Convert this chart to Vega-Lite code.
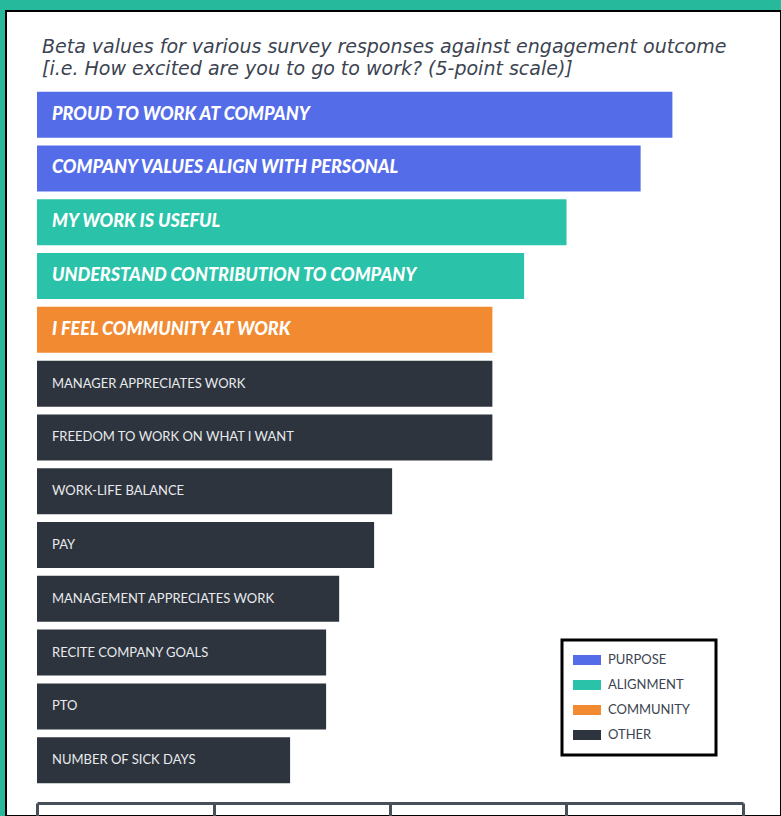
{
  "$schema": "https://vega.github.io/schema/vega-lite/v6.json",
  "width": 775,
  "height": 805,
  "autosize": {"type": "none"},
  "padding": {"left": 6, "top": 11, "right": 0, "bottom": 0},
  "background": "#27B99B",
  "title": {
    "text": ["Beta values for various survey responses against engagement outcome", "[i.e. How excited are you to go to work? (5-point scale)]"],
    "anchor": "start",
    "frame": "group",
    "orient": "top",
    "offset": -68,
    "dx": 36,
    "font": "DejaVu Sans",
    "fontStyle": "italic",
    "fontWeight": "normal",
    "fontSize": 19,
    "lineHeight": 22,
    "color": "#3c4451"
  },
  "config": {
    "view": {"fill": "white", "stroke": "black", "strokeWidth": 2},
    "legend": {"strokeWidth": 3}
  },
  "data": {
    "values": [
      {"response": "PROUD TO WORK AT COMPANY", "group": "PURPOSE", "beta": 0.180},
      {"response": "COMPANY VALUES ALIGN WITH PERSONAL", "group": "PURPOSE", "beta": 0.171},
      {"response": "MY WORK IS USEFUL", "group": "ALIGNMENT", "beta": 0.150},
      {"response": "UNDERSTAND CONTRIBUTION TO COMPANY", "group": "ALIGNMENT", "beta": 0.138},
      {"response": "I FEEL COMMUNITY AT WORK", "group": "COMMUNITY", "beta": 0.129},
      {"response": "MANAGER APPRECIATES WORK", "group": "OTHER", "beta": 0.129},
      {"response": "FREEDOM TO WORK ON WHAT I WANT", "group": "OTHER", "beta": 0.129},
      {"response": "WORK-LIFE BALANCE", "group": "OTHER", "beta": 0.1006},
      {"response": "PAY", "group": "OTHER", "beta": 0.0955},
      {"response": "MANAGEMENT APPRECIATES WORK", "group": "OTHER", "beta": 0.0856},
      {"response": "RECITE COMPANY GOALS", "group": "OTHER", "beta": 0.0819},
      {"response": "PTO", "group": "OTHER", "beta": 0.0819},
      {"response": "NUMBER OF SICK DAYS", "group": "OTHER", "beta": 0.0717}
    ]
  },
  "encoding": {
    "y": {
      "field": "response",
      "type": "nominal",
      "sort": null,
      "axis": null,
      "scale": {"range": [80.7, 772.2], "paddingInner": 0.145, "paddingOuter": 0}
    }
  },
  "layer": [
    {
      "mark": {"type": "bar"},
      "encoding": {
        "x": {
          "field": "beta",
          "type": "quantitative",
          "scale": {"domain": [0, 0.2], "range": [31, 737], "nice": false},
          "axis": {
            "title": null,
            "labels": false,
            "grid": false,
            "values": [0, 0.05, 0.1, 0.15, 0.2],
            "domainColor": "#474f59",
            "domainWidth": 3,
            "tickColor": "#474f59",
            "tickWidth": 3,
            "tickSize": 14,
            "offset": -13
          }
        },
        "color": {
          "field": "group",
          "type": "nominal",
          "scale": {
            "domain": ["PURPOSE", "ALIGNMENT", "COMMUNITY", "OTHER"],
            "range": ["#556CE9", "#2AC3A9", "#F28A32", "#2D343D"]
          },
          "legend": {
            "title": " ",
            "titleOrient": "right",
            "titlePadding": 15,
            "orient": "none",
            "legendX": 556,
            "legendY": 629,
            "symbolType": "M-1,-0.357H1V0.357H-1Z",
            "symbolSize": 784,
            "symbolStrokeWidth": 0,
            "symbolOpacity": 1,
            "clipHeight": 18,
            "rowPadding": 7,
            "padding": 11,
            "strokeColor": "black",
            "fillColor": "white",
            "labelFont": "Lato",
            "labelFontSize": 13,
            "labelColor": "#3c4451",
            "labelOffset": 7
          }
        }
      }
    },
    {
      "transform": [{"filter": "datum.group != 'OTHER'"}],
      "mark": {"type": "text", "align": "left", "baseline": "middle", "dx": 15, "font": "Lato", "fontStyle": "italic", "fontWeight": 900, "fontSize": 18, "color": "white"},
      "encoding": {
        "x": {"datum": 0, "type": "quantitative"},
        "text": {"field": "response"}
      }
    },
    {
      "transform": [{"filter": "datum.group == 'OTHER'"}],
      "mark": {"type": "text", "align": "left", "baseline": "middle", "dx": 15, "font": "Lato", "fontSize": 13, "color": "#e8eaed"},
      "encoding": {
        "x": {"datum": 0, "type": "quantitative"},
        "text": {"field": "response"}
      }
    }
  ]
}
